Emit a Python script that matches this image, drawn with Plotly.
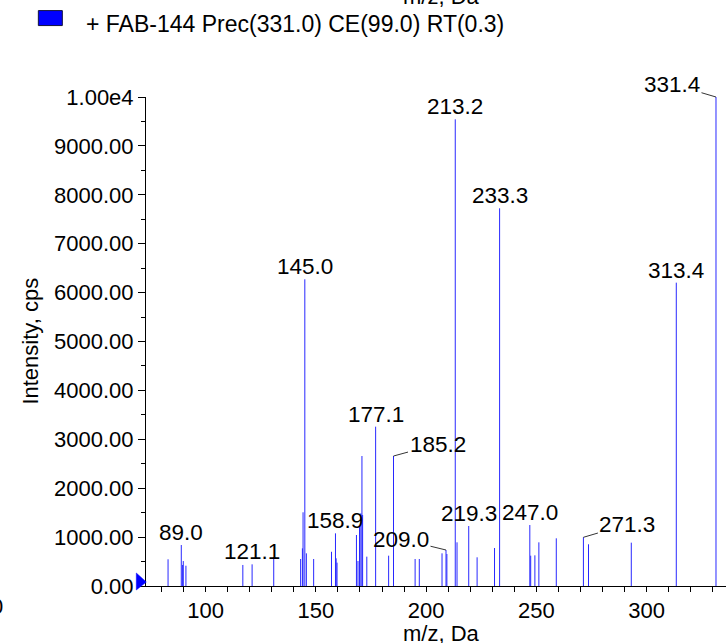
import plotly.graph_objects as go

# ---------------- data ----------------
peak_mz = [83.0, 89.0, 89.6, 89.9, 91.1, 116.9, 121.1, 130.9,
           143.1, 143.9, 144.2, 145.0, 145.7, 149.0, 157.1, 158.9, 159.2, 159.6,
           168.4, 169.1, 169.8, 170.4, 170.9, 171.2, 173.1, 177.1, 183.0, 185.2,
           195.0, 196.9, 207.2, 209.0, 209.4, 213.2, 214.0, 219.3, 223.1, 231.0,
           233.3, 247.0, 247.4, 249.3, 251.1, 259.0, 271.3, 273.6, 293.0, 313.4, 331.4]
peak_int = [546, 838, 430, 510, 415, 430, 443, 587,
            552, 770, 1507, 6272, 668, 552, 700, 1077, 566, 477,
            1043, 511, 1213, 1487, 2658, 1452, 600, 3258, 620, 2658,
            552, 552, 668, 736, 654, 9544, 893, 1227, 587, 777,
            7724, 1247, 620, 627, 893, 975, 996, 853, 886, 6203, 10000]

label_mz = [89.0, 121.1, 145.0, 158.9, 177.1, 185.2, 209.0, 213.2, 219.3,
            233.3, 247.0, 271.3, 313.4, 331.4]
label_text = ["89.0", "121.1", "145.0", "158.9", "177.1", "185.2", "209.0", "213.2",
              "219.3", "233.3", "247.0", "271.3", "313.4", "331.4"]

x_tick_vals = [100, 150, 200, 250, 300]
x_tick_text = ["100", "150", "200", "250", "300"]
y_tick_vals = [0, 1000, 2000, 3000, 4000, 5000, 6000, 7000, 8000, 9000, 10000]
y_tick_text = ["0.00", "1000.00", "2000.00", "3000.00", "4000.00", "5000.00",
               "6000.00", "7000.00", "8000.00", "9000.00", "1.00e4"]

series_name = "+ FAB-144 Prec(331.0) CE(99.0) RT(0.3)"
x_title = "m/z, Da"
y_title = "Intensity, cps"
edge_fragment = "0"

# ---------------- layout geometry (figure pixels = screen pixels; body margin removed) ----------------
W, H = 726, 643
L, R, T, B = 145.7, 726, 96.5, 586
X_MIN = 73.0
PXU = 2.207
X_MAX = X_MIN + (R - L) / PXU
Y_MIN, Y_MAX = 0, 10000

FONT = "Arial, Liberation Sans, sans-serif"
FS = 22
FS_LAB = 22.5
FS_LEG = 23


def px(xs):
    """screen x -> paper x"""
    return (xs - L) / (R - L)


def py(ys):
    """screen y -> paper y"""
    return (B - ys) / (B - T)


# leader-line labels: pixel offsets of text centre from the peak top
leaders = {"185.2": (44, -12), "209.0": (-45, -11), "271.3": (44, -13), "331.4": (-44, -13)}

# ---------------- traces ----------------
xs, ys = [], []
for m, v in zip(peak_mz, peak_int):
    xs += [m, m, None]
    ys += [0, v, None]

fig = go.Figure()
fig.add_trace(go.Scatter(x=xs, y=ys, mode="lines",
                         line=dict(color="rgb(40,40,255)", width=1),
                         hoverinfo="skip", showlegend=False))

annotations = []
lookup = dict(zip(peak_mz, peak_int))
for m, t in zip(label_mz, label_text):
    v = lookup[m]
    if t in leaders:
        ax, ay = leaders[t]
        annotations.append(dict(x=m, y=v, xref="x", yref="y", text=t, showarrow=True,
                                arrowhead=0, arrowwidth=0.8, arrowcolor="black",
                                ax=ax, ay=ay, standoff=0,
                                font=dict(family=FONT, size=FS_LAB, color="black")))
    else:
        annotations.append(dict(x=m, y=v, xref="x", yref="y", text=t, showarrow=False,
                                yanchor="bottom", yshift=-2,
                                font=dict(family=FONT, size=FS_LAB, color="black")))

# axis titles
annotations.append(dict(x=px(441), y=py(634), xref="paper", yref="paper", text=x_title,
                        showarrow=False, xanchor="center", yanchor="middle",
                        font=dict(family=FONT, size=FS, color="black")))
annotations.append(dict(x=px(441), y=py(-4), xref="paper", yref="paper", text=x_title,
                        showarrow=False, xanchor="center", yanchor="middle",
                        font=dict(family=FONT, size=FS, color="black")))
annotations.append(dict(x=px(30), y=py(341), xref="paper", yref="paper", text=y_title,
                        textangle=-90, showarrow=False, xanchor="center", yanchor="middle",
                        font=dict(family=FONT, size=FS, color="black")))
# clipped fragment at the left edge
annotations.append(dict(x=px(-3), y=py(607), xref="paper", yref="paper", text=edge_fragment,
                        showarrow=False, xanchor="center", yanchor="middle",
                        font=dict(family=FONT, size=FS, color="black")))
# legend text
annotations.append(dict(x=px(84), y=py(23), xref="paper", yref="paper", text=series_name,
                        showarrow=False, xanchor="left", yanchor="middle",
                        font=dict(family=FONT, size=FS_LEG, color="black")))

shapes = [
    # legend swatch
    dict(type="rect", xref="paper", yref="paper",
         x0=px(38), x1=px(62), y0=py(25), y1=py(10),
         fillcolor="rgb(0,0,255)", line=dict(color="rgb(20,20,60)", width=1)),
    # precursor marker at the origin
    dict(type="path", xref="paper", yref="paper",
         path="M {:.5f},{:.5f} L {:.5f},{:.5f} L {:.5f},{:.5f} Z".format(
             px(136), py(573), px(136), py(590), px(146), py(582)),
         fillcolor="rgb(0,0,255)", line=dict(color="rgb(0,0,255)", width=0.5)),
]

fig.update_layout(
    width=W, height=H,
    margin=dict(l=L, r=W - R, t=T, b=H - B, pad=0),
    paper_bgcolor="white", plot_bgcolor="white",
    font=dict(family=FONT, size=FS, color="black"),
    annotations=annotations, shapes=shapes,
    showlegend=False, hovermode=False,
)
fig.update_xaxes(range=[X_MIN, X_MAX], showgrid=False, zeroline=False,
                 showline=True, linecolor="black", linewidth=1,
                 ticks="outside", ticklen=5, tickcolor="black",
                 tickvals=x_tick_vals, ticktext=x_tick_text,
                 minor=dict(dtick=10, tick0=0, ticks="outside", ticklen=5, tickcolor="black"),
                 tickfont=dict(family=FONT, size=FS, color="black"))
fig.update_yaxes(range=[Y_MIN, Y_MAX], showgrid=False, zeroline=False,
                 showline=True, linecolor="black", linewidth=1,
                 ticks="outside", ticklen=7, tickcolor="black",
                 tickvals=y_tick_vals, ticktext=y_tick_text,
                 minor=dict(dtick=500, tick0=0, ticks="outside", ticklen=4, tickcolor="black"),
                 tickfont=dict(family=FONT, size=FS, color="black"))

fig.write_html("out.html",
               config={"displayModeBar": False},
               post_script="document.body.style.margin='0';document.body.style.overflow='hidden';")
